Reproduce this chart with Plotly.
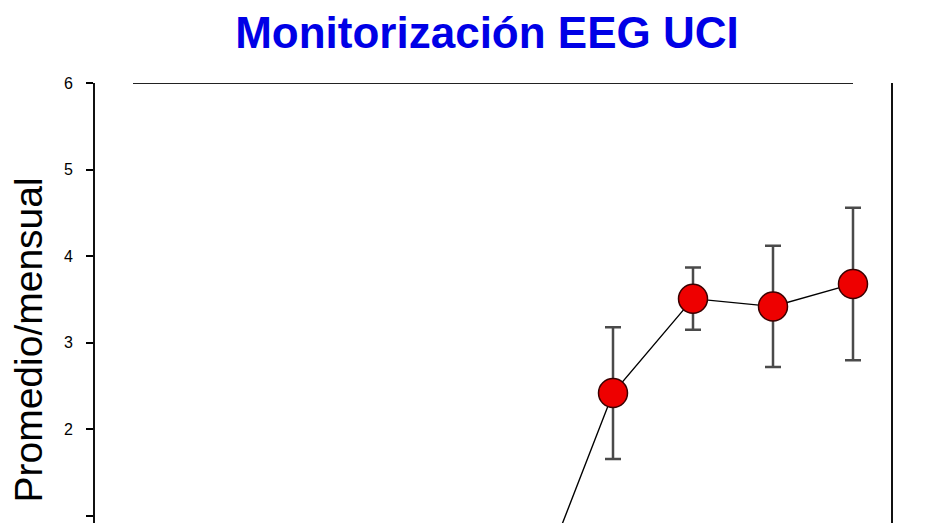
import plotly.graph_objects as go

# periods on the x axis (0..9), only the last ones are visible in the picture
periodos = [5, 6, 7, 8, 9]
promedio = [0.04, 2.42, 3.51, 3.42, 3.68]
error = [0.0, 0.76, 0.36, 0.70, 0.88]

y_ticks = [1, 2, 3, 4, 5, 6]
titulo = "Monitorización EEG UCI"
titulo_y = "Promedio/mensual"

fig = go.Figure()

fig.add_trace(go.Scatter(
    x=periodos, y=promedio, mode="lines+markers",
    line=dict(color="black", width=1.4),
    marker=dict(size=29, color="#ee0000", line=dict(color="#3a0000", width=1.5)),
    error_y=dict(type="data", array=error, visible=True,
                 color="#4a4a4a", thickness=2.5, width=8),
    showlegend=False,
))

# offset top frame line spanning the first to last period
fig.add_shape(type="line", xref="x", yref="y", x0=0, x1=9, y0=6, y1=6,
              line=dict(color="#222222", width=2))

fig.add_annotation(
    text=titulo_y, textangle=-90, showarrow=False,
    xref="paper", yref="paper", x=-0.0835, y=0.416,
    xanchor="center", yanchor="middle",
    font=dict(family="Arial, Liberation Sans", size=39, color="black"),
)

# the page adds an 8px body margin, so the figure is a bit smaller than the window
fig.update_layout(
    width=922, height=515,
    margin=dict(l=87, r=39, t=75, b=0),
    paper_bgcolor="white", plot_bgcolor="white",
    title=dict(text=titulo, x=0.5195, xref="container", xanchor="center",
               y=0.9515, yref="container", yanchor="middle",
               font=dict(family="Arial, Liberation Sans", size=44,
                         color="#0000e6", weight="bold")),
)

fig.update_xaxes(range=[-0.475, 9.475], showline=False, showgrid=False,
                 zeroline=False, showticklabels=False, ticks="")
fig.update_yaxes(range=[0.92, 6], tickvals=y_ticks, ticks="outside",
                 ticklen=7, tickwidth=1.5, tickcolor="black",
                 showline=True, linecolor="#111111", linewidth=2, mirror=True,
                 showgrid=False, zeroline=False, ticklabelstandoff=10,
                 tickfont=dict(family="Arial, Liberation Sans", size=16, color="black"))

fig.write_html("out.html")
